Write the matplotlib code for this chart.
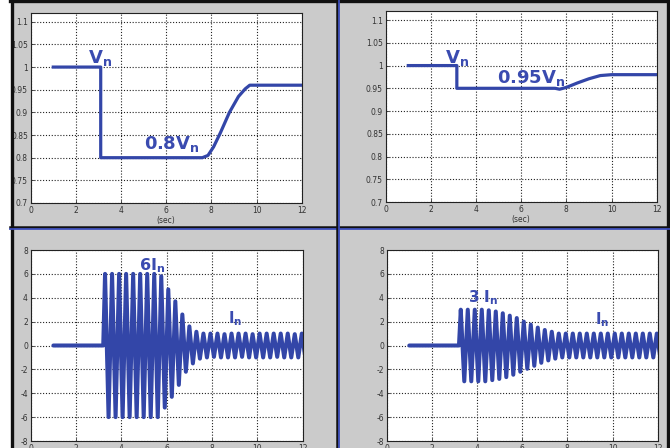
import matplotlib
matplotlib.use("Agg")
import matplotlib.pyplot as plt
from matplotlib.patches import Rectangle
from matplotlib.lines import Line2D

plt.rcParams['mathtext.fontset'] = 'dejavusans'

# ---------------- data ----------------
# Voltage, left (0.8 Vn sag)
v1_t = [1.0, 3.1, 3.1, 7.6, 7.85, 8.1, 8.4, 8.8, 9.2, 9.5, 9.7, 12.0]
v1_v = [1.0, 1.0, 0.8, 0.8, 0.805, 0.824, 0.855, 0.9, 0.935, 0.952, 0.96, 0.96]
# Voltage, right (0.95 Vn sag)
v2_t = [1.0, 3.15, 3.15, 7.5, 7.7, 8.0, 8.5, 9.0, 9.5, 10.0, 12.0]
v2_v = [1.0, 1.0, 0.95, 0.95, 0.948, 0.952, 0.962, 0.971, 0.978, 0.98, 0.98]

# Current waveforms: flat zero part, then successive half-cycle extremes
i_flat_t = [1.0, 3.2]
i_start = 3.2
i_first = 3.28
half_period = 0.155
i1_ext = [6, -6, 6, -6, 6, -6, 6, -6, 6, -6, 6, -6, 6, -6, 6, -6,
          5.8, -5.2, 4.7, -4.3, 3.7, -3.3, 2.6, -2.2, 1.6, -1.5, 1.15, -1.1,
          1.0, -1.0, 1.0, -0.95, 1.0, -1.0, 0.95, -1.0, 1.0, -1.0, 1.0, -0.95,
          1.0, -1.0, 0.95, -1.0, 1.0, -1.0, 1.0, -1.0, 1.0, -0.95, 1.0, -1.0,
          1.0, -1.0, 0.95, -1.0, 1.0, -1.0]
i2_ext = [3.0, -3.0, 3.0, -3.0, 3.0, -3.0, 3.0, -3.0, 2.95, -2.9, 2.85, -2.8,
          2.7, -2.65, 2.5, -2.45, 2.3, -2.2, 2.0, -1.95, 1.75, -1.7, 1.5, -1.45,
          1.3, -1.25, 1.15, -1.1, 1.0, -1.0, 1.0, -1.0, 1.0, -1.0, 1.0, -1.0,
          1.0, -1.0, 1.0, -1.0, 1.0, -1.0, 1.0, -1.0, 1.0, -1.0, 1.0, -1.0,
          1.0, -1.0, 1.0, -1.0, 1.0, -1.0, 1.0, -1.0, 1.0, -1.0]

v_yticks = [0.7, 0.75, 0.8, 0.85, 0.9, 0.95, 1.0, 1.05, 1.1]
v_yticklabels = ['0.7', '0.75', '0.8', '0.85', '0.9', '0.95', '1', '1.05', '1.1']
i_yticks = [-8, -6, -4, -2, 0, 2, 4, 6, 8]
i_yticklabels = ['-8', '-6', '-4', '-2', '0', '2', '4', '6', '8']
xticks = [0, 2, 4, 6, 8, 10, 12]
xticklabels = ['0', '2', '4', '6', '8', '10', '12']

# ---------------- figure ----------------
W, H = 670, 448
fig = plt.figure(figsize=(W / 100, H / 100), dpi=100, facecolor='white')

def fr(x0, y0, x1, y1):
    # pixel box (top-left origin) -> figure fraction [l, b, w, h]
    return [x0 / W, 1 - y1 / H, (x1 - x0) / W, (y1 - y0) / H]

GRAY = '#cbcbcb'
BLUE = '#3346a8'
TXT = '#3a4bb0'

# gray quadrant backgrounds
for (x0, y0, x1, y1) in [(12, 3, 337, 228), (339, 3, 667, 228),
                         (12, 230, 337, 448), (339, 230, 667, 448)]:
    fig.add_artist(Rectangle((x0 / W, 1 - y1 / H), (x1 - x0) / W, (y1 - y0) / H,
                             transform=fig.transFigure, facecolor=GRAY,
                             edgecolor='none', zorder=-5))

def style(ax, ylim, yt, ytl):
    ax.set_facecolor('white')
    ax.set_xlim(0, 12)
    ax.set_ylim(*ylim)
    ax.set_xticks(xticks)
    ax.set_xticklabels(xticklabels)
    ax.set_yticks(yt)
    ax.set_yticklabels(ytl)
    ax.tick_params(direction='in', length=2.5, width=0.6, labelsize=5.5,
                   colors='#333333', pad=2)
    ax.grid(True, linestyle=(0, (1, 1.6)), linewidth=0.8, color='#222222')
    for s in ax.spines.values():
        s.set_linewidth(0.8)
        s.set_color('#222222')

axes_px = {
    'tl': (30.7, 12.7, 301.7, 203),
    'tr': (385.7, 11, 656.7, 202),
    'bl': (30.7, 250, 302.7, 441),
    'br': (386.7, 250, 657.7, 441),
}

ax_tl = fig.add_axes(fr(*axes_px['tl']))
ax_tr = fig.add_axes(fr(*axes_px['tr']))
ax_bl = fig.add_axes(fr(*axes_px['bl']))
ax_br = fig.add_axes(fr(*axes_px['br']))

for ax in (ax_tl, ax_tr):
    style(ax, (0.7, 1.12), v_yticks, v_yticklabels)
    ax.set_xlabel('(sec)', fontsize=5.5, color='#333333', labelpad=1)
for ax in (ax_bl, ax_br):
    style(ax, (-8, 8), i_yticks, i_yticklabels)

# voltage traces
ax_tl.plot(v1_t, v1_v, color=BLUE, lw=2.3, solid_joinstyle='round')
ax_tr.plot(v2_t, v2_v, color=BLUE, lw=2.3, solid_joinstyle='round')

# current traces
def current(ax, ext):
    t = list(i_flat_t) + [i_start] + [i_first + k * half_period for k in range(len(ext))]
    y = [0, 0] + [0] + list(ext)
    ax.plot(t, y, color=BLUE, lw=2.9, solid_joinstyle='round',
            solid_capstyle='round', clip_on=True)

current(ax_bl, i1_ext)
current(ax_br, i2_ext)

# annotations
kw = dict(color=TXT, fontweight='bold', va='baseline', ha='left')
ax_tl.text(2.55, 1.008, r'$\mathbf{V_n}$', fontsize=13, **kw)
ax_tl.text(5.0, 0.82, r'$\mathbf{0.8V_n}$', fontsize=13, **kw)
ax_tr.text(2.63, 1.005, r'$\mathbf{V_n}$', fontsize=13, **kw)
ax_tr.text(4.95, 0.962, r'$\mathbf{0.95V_n}$', fontsize=13, **kw)
ax_bl.text(4.8, 6.33, r'$\mathbf{6I_n}$', fontsize=11.5, **kw)
ax_bl.text(8.7, 1.9, r'$\mathbf{I_n}$', fontsize=10.5, **kw)
ax_br.text(3.59, 3.65, r'$\mathbf{3\ I_n}$', fontsize=11, **kw)
ax_br.text(9.22, 1.8, r'$\mathbf{I_n}$', fontsize=10.5, **kw)

# frame lines / borders
def hline(y, x0, x1, color, lw):
    fig.add_artist(Line2D([x0 / W, x1 / W], [1 - y / H, 1 - y / H],
                          transform=fig.transFigure, color=color, lw=lw, zorder=20))

def vline(x, y0, y1, color, lw):
    fig.add_artist(Line2D([x / W, x / W], [1 - y0 / H, 1 - y1 / H],
                          transform=fig.transFigure, color=color, lw=lw, zorder=20))

# white margin at left
fig.add_artist(Rectangle((0, 0), 10 / W, 1, transform=fig.transFigure,
                         facecolor='white', edgecolor='none', zorder=19))
vline(11.5, 0, 448, '#111111', 2.4)
hline(1.5, 10, 670, '#111111', 2.4)
vline(668, 0, 448, '#111111', 2.4)
hline(227, 10, 670, '#111111', 1.8)
hline(229.5, 10, 670, '#3a4bb8', 1.3)
vline(336.5, 0, 448, '#111111', 1.8)
vline(338.5, 0, 448, '#3a4bb8', 1.3)

fig.savefig('out.png', dpi=100, facecolor='white')
